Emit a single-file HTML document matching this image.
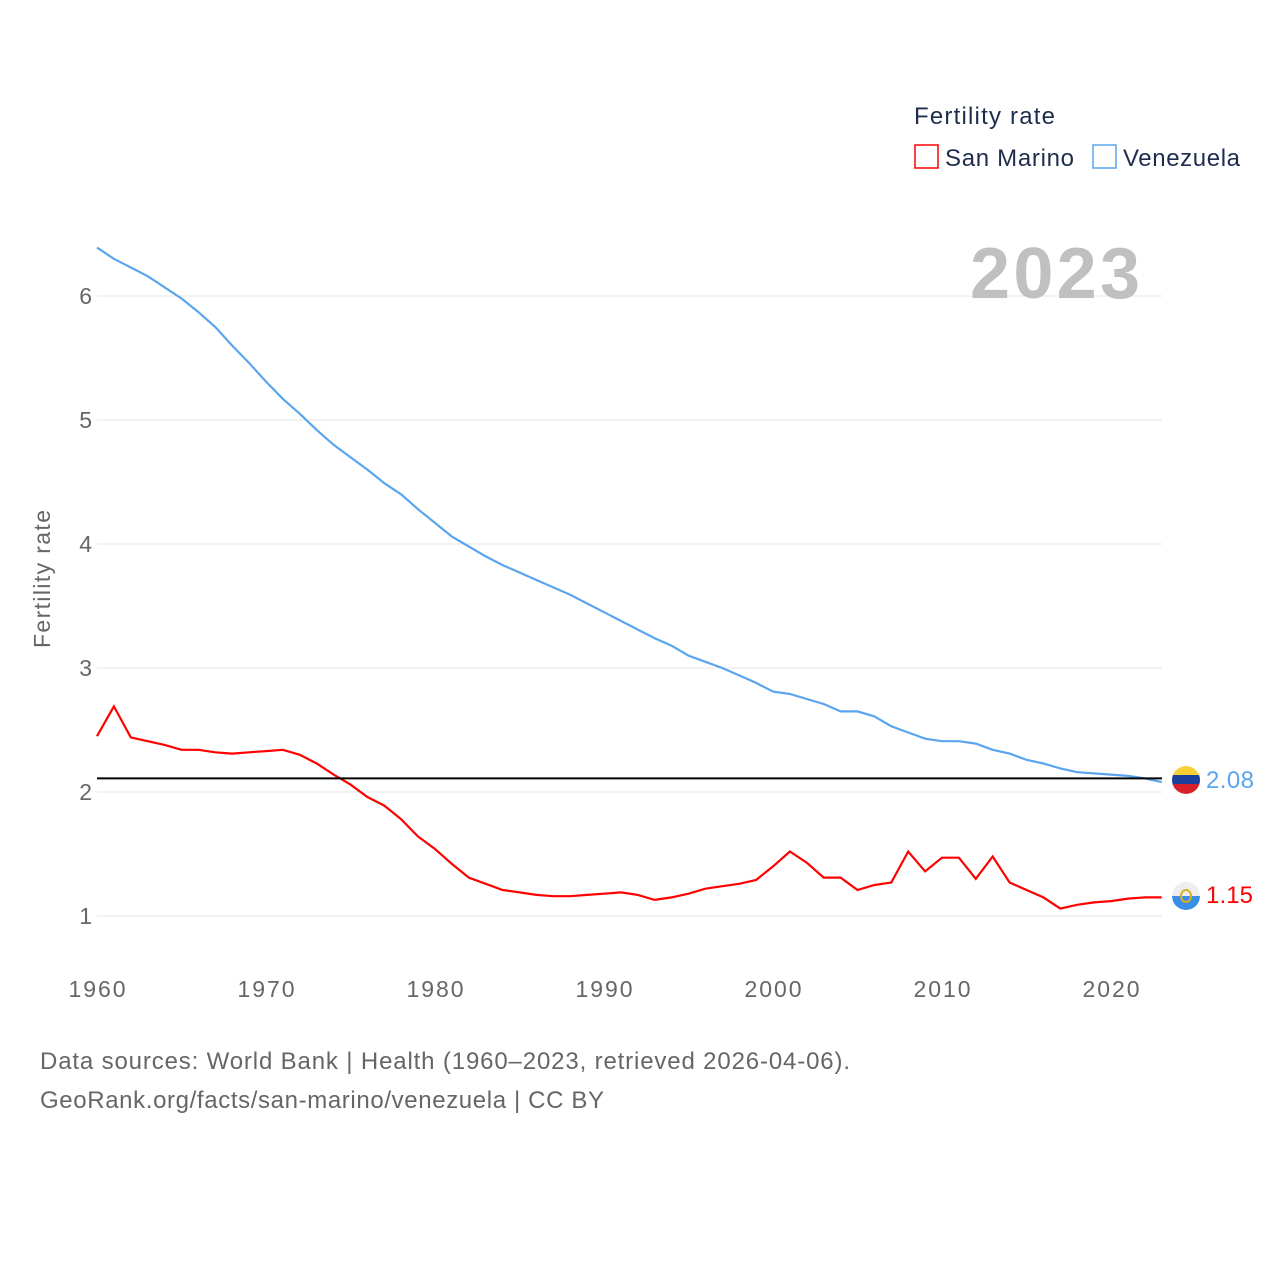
<!DOCTYPE html>
<html><head><meta charset="utf-8">
<style>
body{margin:0;background:#fff;font-family:"Liberation Sans",sans-serif;}
svg{display:block}
</style></head>
<body>
<svg id="chart" width="1280" height="1280">
<defs>
<clipPath id="cVe"><circle cx="1186" cy="780" r="14"/></clipPath>
<clipPath id="cSm"><circle cx="1186" cy="896" r="14"/></clipPath>
</defs>
<g id="grid"></g>
<g id="lines"></g>
<text x="1140" y="298" text-anchor="end" font-size="72" font-weight="bold" fill="#c0c0c0" textLength="170">2023</text>
<text transform="translate(50,579) rotate(-90)" text-anchor="middle" font-size="23" fill="#666" textLength="138">Fertility rate</text>
<g>
<text x="914" y="124" font-size="24" fill="#1f2d4d" textLength="141">Fertility rate</text>
<g>
<rect x="915" y="145" width="23" height="23" fill="none" stroke="#ff0000" stroke-width="1.5"/>
<text x="945" y="166" font-size="24" fill="#1f2d4d" textLength="129">San Marino</text></g>
<g>
<rect x="1093" y="145" width="23" height="23" fill="none" stroke="#5aa5ee" stroke-width="1.5"/>
<text x="1123" y="166" font-size="24" fill="#1f2d4d" textLength="117">Venezuela</text></g>
</g>
<g clip-path="url(#cVe)">
<rect x="1172" y="766" width="28" height="10" fill="#f7d038"/>
<rect x="1172" y="775" width="28" height="10" fill="#1a3f9c"/>
<rect x="1172" y="784" width="28" height="10" fill="#d8202a"/>
</g>
<g clip-path="url(#cSm)">
<rect x="1172" y="882" width="28" height="14" fill="#eeeeee"/>
<rect x="1172" y="896" width="28" height="14" fill="#3b8ee8"/>
<ellipse cx="1186" cy="896" rx="5" ry="6" fill="none" stroke="#d8b020" stroke-width="2"/>
</g>
<text x="1206" y="788" font-size="24" fill="#5aa5ee" textLength="48">2.08</text>
<text x="1206" y="903" font-size="24" fill="#ff0000" textLength="47">1.15</text>
<text x="40" y="1069" font-size="24" fill="#666" textLength="810">Data sources: World Bank | Health (1960–2023, retrieved 2026-04-06).</text>
<text x="40" y="1108" font-size="24" fill="#666" textLength="564">GeoRank.org/facts/san-marino/venezuela | CC BY</text>
</svg>
<script>
const years = [];
for (let y = 1960; y <= 2023; y++) years.push(y);
const sanMarino = [2.45,2.69,2.44,2.41,2.38,2.34,2.34,2.32,2.31,2.32,2.33,2.34,2.30,2.23,2.14,2.06,1.96,1.89,1.78,1.64,1.54,1.42,1.31,1.26,1.21,1.19,1.17,1.16,1.16,1.17,1.18,1.19,1.17,1.13,1.15,1.18,1.22,1.24,1.26,1.29,1.40,1.52,1.43,1.31,1.31,1.21,1.25,1.27,1.52,1.36,1.47,1.47,1.30,1.48,1.27,1.21,1.15,1.06,1.09,1.11,1.12,1.14,1.15,1.15];
const venezuela = [6.39,6.30,6.23,6.16,6.07,5.98,5.87,5.75,5.60,5.46,5.31,5.17,5.05,4.92,4.80,4.70,4.60,4.49,4.40,4.28,4.17,4.06,3.98,3.90,3.83,3.77,3.71,3.65,3.59,3.52,3.45,3.38,3.31,3.24,3.18,3.10,3.05,3.00,2.94,2.88,2.81,2.79,2.75,2.71,2.65,2.65,2.61,2.53,2.48,2.43,2.41,2.41,2.39,2.34,2.31,2.26,2.23,2.19,2.16,2.15,2.14,2.13,2.11,2.08];
const yTicks = [1,2,3,4,5,6];
const xTicks = [1960,1970,1980,1990,2000,2010,2020];
const replacementRate = 2.11;

const NS = "http://www.w3.org/2000/svg";
const X = yr => 97 + (yr - 1960) * 16.9;
const Y = v => 916 - (v - 1) * 124;
const grid = document.getElementById('grid');
const lines = document.getElementById('lines');
function mk(tag, attrs, parent){const e=document.createElementNS(NS,tag);for(const k in attrs)e.setAttribute(k,attrs[k]);parent.appendChild(e);return e;}

yTicks.forEach(t=>{
  const l = mk('line',{x1:97,x2:1162,y1:Y(t),y2:Y(t),stroke:'#e6e6e6','stroke-width':1},grid);
  
  
  const tx = mk('text',{x:92,y:Y(t)+8,'text-anchor':'end','font-size':23,fill:'#666'},grid);
  tx.textContent = t;
  
  
});
xTicks.forEach(t=>{
  const tx = mk('text',{x:X(t),y:997,'text-anchor':'middle','font-size':23,fill:'#666',textLength:57},grid);
  tx.textContent = t;
  
  
});
function path(vals){return vals.map((v,i)=>(i?'L':'M')+X(years[i]).toFixed(1)+','+Y(v).toFixed(1)).join(' ');}
const ve = mk('path',{d:path(venezuela),fill:'none',stroke:'#5aa5ee','stroke-width':2.2},lines);


const sm = mk('path',{d:path(sanMarino),fill:'none',stroke:'#ff0000','stroke-width':2.2},lines);


const rl = mk('line',{x1:97,x2:1162,y1:Y(replacementRate),y2:Y(replacementRate),stroke:'#000','stroke-width':2},lines);


</script>
</body></html>
